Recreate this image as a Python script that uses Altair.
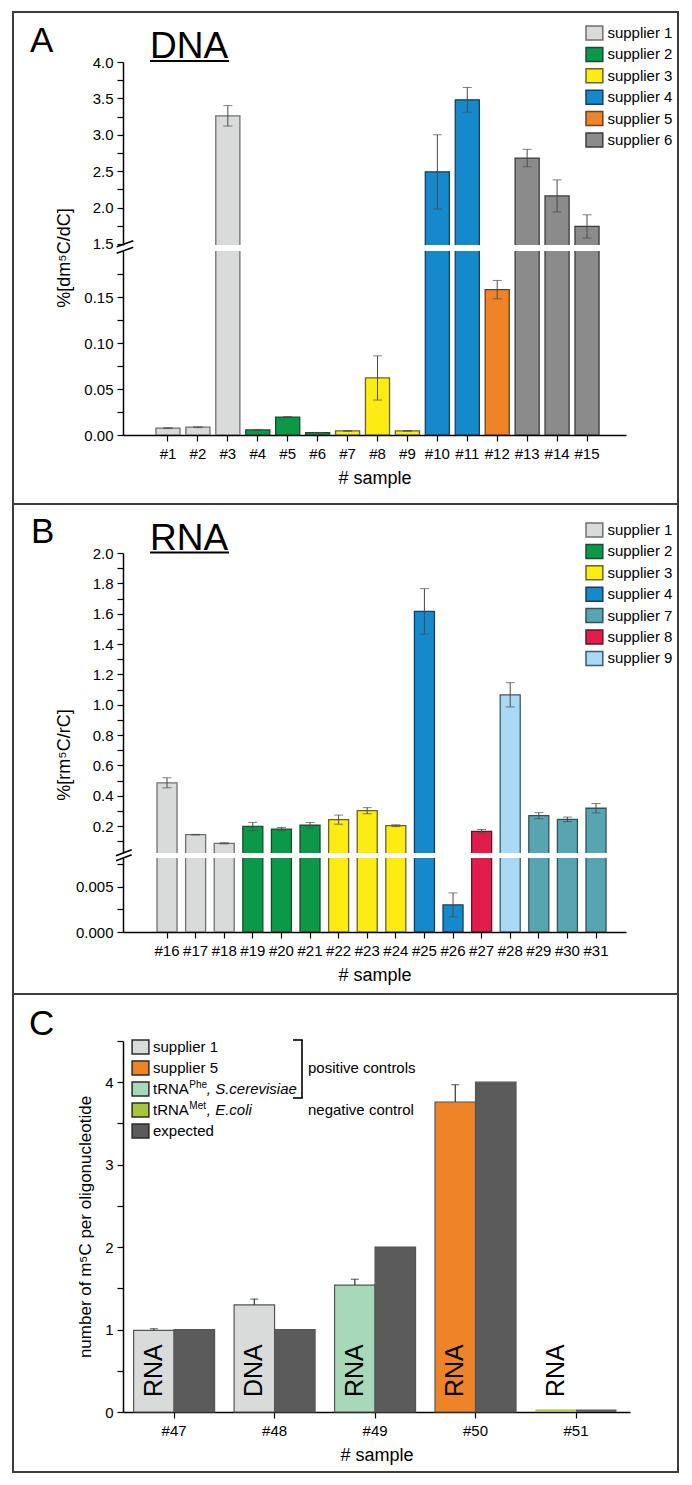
import altair as alt
import pandas as pd

FONT = "Liberation Sans"

# ---------------- Panel A : DNA ----------------
a_samples = ["#1", "#2", "#3", "#4", "#5", "#6", "#7", "#8", "#9", "#10",
             "#11", "#12", "#13", "#14", "#15"]
a_suppliers = ["supplier 1", "supplier 1", "supplier 1",
               "supplier 2", "supplier 2", "supplier 2",
               "supplier 3", "supplier 3", "supplier 3",
               "supplier 4", "supplier 4", "supplier 5",
               "supplier 6", "supplier 6", "supplier 6"]
a_values = [0.0075, 0.0085, 3.26, 0.0055, 0.0195, 0.0025, 0.0045, 0.062,
            0.0045, 2.49, 3.48, 0.158, 2.68, 2.16, 1.74]
a_errors = [0.0005, 0.0005, 0.14, 0.0005, 0.0006, 0.0003, 0.0004, 0.024,
            0.0004, 0.51, 0.17, 0.010, 0.12, 0.22, 0.16]
a_legend = ["supplier 1", "supplier 2", "supplier 3", "supplier 4",
            "supplier 5", "supplier 6"]
a_fill = ["#D9DADA", "#0B9849", "#FCEC12", "#1689CC", "#EE8427", "#8B8B8B"]
a_line = ["#707070", "#1E4A30", "#6B6420", "#173E5E", "#6A4020", "#3C3C3C"]
a_up_ticks = [1.5, 1.75, 2.0, 2.25, 2.5, 2.75, 3.0, 3.25, 3.5, 3.75, 4.0]
a_low_ticks = [0.0, 0.025, 0.05, 0.075, 0.1, 0.125, 0.15, 0.175]

# ---------------- Panel B : RNA ----------------
b_samples = ["#16", "#17", "#18", "#19", "#20", "#21", "#22", "#23", "#24",
             "#25", "#26", "#27", "#28", "#29", "#30", "#31"]
b_suppliers = ["supplier 1", "supplier 1", "supplier 1",
               "supplier 2", "supplier 2", "supplier 2",
               "supplier 3", "supplier 3", "supplier 3",
               "supplier 4", "supplier 4", "supplier 8", "supplier 9",
               "supplier 7", "supplier 7", "supplier 7"]
b_values = [0.485, 0.143, 0.086, 0.197, 0.180, 0.205, 0.242, 0.301, 0.202,
            1.615, 0.0030, 0.165, 1.065, 0.268, 0.244, 0.317]
b_errors = [0.033, 0.002, 0.004, 0.027, 0.010, 0.018, 0.030, 0.020, 0.006,
            0.150, 0.00133, 0.012, 0.080, 0.020, 0.015, 0.031]
b_legend = ["supplier 1", "supplier 2", "supplier 3", "supplier 4",
            "supplier 7", "supplier 8", "supplier 9"]
b_fill = ["#D9DADA", "#0B9849", "#FCEC12", "#1689CC", "#56A5B0", "#E31D4B", "#A9D9F5"]
b_line = ["#707070", "#1E4A30", "#6B6420", "#173E5E", "#2F5459", "#5A1A26", "#3E5A6A"]
b_up_ticks = [0.1, 0.2, 0.3, 0.4, 0.5, 0.6, 0.7, 0.8, 0.9, 1.0, 1.1, 1.2,
              1.3, 1.4, 1.5, 1.6, 1.7, 1.8, 1.9, 2.0]
b_low_ticks = [0.0, 0.0025, 0.005, 0.0075]

# ---------------- Panel C : oligonucleotides ----------------
c_samples = ["#47", "#48", "#49", "#50", "#51"]
c_material = ["RNA", "DNA", "RNA", "RNA", "RNA"]
c_source = ["supplier 1", "supplier 1", "tRNA Phe", "supplier 5", "tRNA Met"]
c_measured = [0.99, 1.30, 1.54, 3.76, 0.03]
c_errors = [0.02, 0.07, 0.07, 0.21, 0.0]
c_expected = [1.0, 1.0, 2.0, 4.0, 0.03]
c_keys = ["supplier 1", "supplier 5", "tRNA Phe", "tRNA Met", "expected"]
c_fill = ["#D9DADA", "#EE8427", "#A7D8B8", "#A8C43A", "#5B5B5B"]
c_legend_main = ["supplier 1", "supplier 5", "tRNA", "tRNA", "expected"]
c_legend_sup = ["", "", "Phe", "Met", ""]
c_legend_species = ["", "", ", S.cerevisiae", ", E.coli", ""]
c_note_text = ["positive controls", "negative control"]
c_note_rows = [1, 3]
c_ticks = [0, 0.5, 1, 1.5, 2, 2.5, 3, 3.5, 4, 4.5]

SYMBOL = "M-1.2,-1H1.2V1H-1.2Z"
one = pd.DataFrame({"k": [0]})


def label(text, x, y, size, **kw):
    opts = dict(align="left", baseline="alphabetic", color="#000")
    opts.update(kw)
    return alt.Chart(one).mark_text(text=text, fontSize=size, **opts).encode(
        x=alt.value(x), y=alt.value(y))


def line(x, y, x2, y2, width=1.6, color="#000"):
    return alt.Chart(one).mark_rule(color=color, strokeWidth=width).encode(
        x=alt.value(x), y=alt.value(y), x2=alt.value(x2), y2=alt.value(y2))


def frame(x, y, x2, y2):
    return alt.Chart(one).mark_rect(fillOpacity=0, stroke="#3d3d3d", strokeWidth=2).encode(
        x=alt.value(x), y=alt.value(y), x2=alt.value(x2), y2=alt.value(y2))


def spacer(h):
    return alt.Chart(one).mark_point(opacity=0).encode(
        x=alt.value(0), y=alt.value(0)).properties(width=503, height=h)


def make_df(samples, suppliers, values, errors):
    df = pd.DataFrame({"sample": samples, "supplier": suppliers,
                       "value": values, "err": errors})
    df["lo"] = df["value"] - df["err"]
    df["hi"] = df["value"] + df["err"]
    return df


def supplier_legend(lx, ly):
    return alt.Legend(orient="none", legendX=lx, legendY=ly, direction="vertical",
                      title=None, padding=0, symbolType=SYMBOL, symbolSize=196,
                      symbolStrokeColor="#2b2b2b", symbolStrokeWidth=1.5,
                      symbolOpacity=1, labelFontSize=15, labelColor="#000",
                      labelOffset=5, rowPadding=1.4)


def section(df, xscale, x_axis, ydomain, ticks, expr, fill_scale, stroke_scale, legend):
    x = alt.X("sample:N", scale=xscale, axis=x_axis, sort=None)
    ysc = alt.Scale(domain=ydomain, nice=False, zero=False)
    yax = alt.Axis(values=ticks, labelExpr=expr, title=None, labelOverlap=False)
    bars = alt.Chart(df).mark_bar(clip=True, strokeWidth=1.3).encode(
        x=x, y=alt.Y("value:Q", scale=ysc, axis=yax), y2=alt.datum(0),
        fill=alt.Fill("supplier:N", scale=fill_scale, legend=legend),
        stroke=alt.Stroke("supplier:N", scale=stroke_scale, legend=None))
    rule = alt.Chart(df).mark_rule(clip=True, color="#4a4a4a", strokeWidth=1).encode(
        x=x, y=alt.Y("lo:Q", scale=ysc, axis=yax), y2="hi:Q")
    t_lo = alt.Chart(df).mark_tick(clip=True, color="#4a4a4a", thickness=1, size=9).encode(
        x=x, y=alt.Y("lo:Q", scale=ysc, axis=yax))
    t_hi = alt.Chart(df).mark_tick(clip=True, color="#4a4a4a", thickness=1, size=9).encode(
        x=x, y=alt.Y("hi:Q", scale=ysc, axis=yax))
    return [bars, rule, t_lo, t_hi]


x_axis_lower = alt.Axis(title="# sample", labelAngle=0, labelOverlap=False)

# ---- Panel A ----
a_df = make_df(a_samples, a_suppliers, a_values, a_errors)
a_x = alt.Scale(domain=a_samples, paddingInner=0.195, paddingOuter=1.0, align=0.55)
a_fill_sc = alt.Scale(domain=a_legend, range=a_fill)
a_line_sc = alt.Scale(domain=a_legend, range=a_line)

a_up = alt.layer(
    *section(a_df, a_x, None, [1.485, 4.0], a_up_ticks,
             "abs(datum.value*2 - round(datum.value*2)) < 0.001 ? format(datum.value, '.1f') : ''",
             a_fill_sc, a_line_sc, supplier_legend(463.4, -37)),
    label("A", -93, -10, 35),
    label("DNA", 27, -4, 37),
    line(27, -1, 106, -1, width=2),
).properties(width=503, height=183)

a_low = alt.layer(
    *section(a_df, a_x, x_axis_lower, [0, 0.2], a_low_ticks,
             "abs(datum.value*20 - round(datum.value*20)) < 0.001 ? format(datum.value, '.2f') : ''",
             a_fill_sc, a_line_sc, None),
    line(-6.3, -4.3, 10.3, -10.3),
    line(-6.3, 2.3, 10.3, -3.7),
    label("%[dm\u2075C/dC]", -58, 7, 18, angle=270, align="center", baseline="middle"),
    frame(-110, -239, 555, 253),
).properties(width=503, height=184)

# ---- Panel B ----
b_df = make_df(b_samples, b_suppliers, b_values, b_errors)
b_x = alt.Scale(domain=b_samples, paddingInner=0.3, paddingOuter=0.944, align=0.63)
b_fill_sc = alt.Scale(domain=b_legend, range=b_fill)
b_line_sc = alt.Scale(domain=b_legend, range=b_line)

b_up = alt.layer(
    *section(b_df, b_x, None, [0.022, 2.0], b_up_ticks,
             "abs(datum.value*5 - round(datum.value*5)) < 0.001 ? format(datum.value, '.1f') : ''",
             b_fill_sc, b_line_sc, supplier_legend(463.4, -31)),
    label("B", -92, -10, 35),
    label("RNA", 27, -3, 37),
    line(27, -0.5, 106, -0.5, width=2),
    label("%[rm\u2075C/rC]", -58, 202, 18, angle=270, align="center", baseline="middle"),
).properties(width=503, height=300)

b_low = alt.layer(
    *section(b_df, b_x, x_axis_lower, [0, 0.0082], b_low_ticks,
             "abs(datum.value*200 - round(datum.value*200)) < 0.001 ? format(datum.value, '.3f') : ''",
             b_fill_sc, b_line_sc, None),
    line(-7, -2.3, 8.7, -8.3),
    line(-7, 2.7, 8.7, -3.3),
    frame(-110, -354, 555, 136),
).properties(width=503, height=74)

# ---- Panel C ----
rows = []
for s, m, src, v, e, ex in zip(c_samples, c_material, c_source, c_measured, c_errors, c_expected):
    rows.append({"sample": s, "kind": "measured", "source": src, "value": v,
                 "hi": v + e, "err": e, "material": m})
    rows.append({"sample": s, "kind": "expected", "source": "expected", "value": ex,
                 "hi": ex, "err": 0.0, "material": ""})
c_df = pd.DataFrame(rows)

c_xs = alt.X("sample:N", sort=None,
             scale=alt.Scale(domain=c_samples, paddingInner=0.194, paddingOuter=0.12, align=0.44),
             axis=x_axis_lower)
c_xo = alt.XOffset("kind:N", scale=alt.Scale(domain=["measured", "expected"],
                                             paddingInner=0, paddingOuter=0))
c_ysc = alt.Scale(domain=[0, 4.5], nice=False)
c_yax = alt.Axis(values=c_ticks, title="number of m\u2075C per oligonucleotide",
                 titleFontSize=17, titlePadding=10, labelOverlap=False,
                 labelExpr="datum.value == round(datum.value) ? format(datum.value, 'd') : ''")

c_bars = alt.Chart(c_df).mark_bar(stroke="#555555").encode(
    x=c_xs, xOffset=c_xo,
    y=alt.Y("value:Q", scale=c_ysc, axis=c_yax), y2=alt.datum(0),
    fill=alt.Fill("source:N", scale=alt.Scale(domain=c_keys, range=c_fill), legend=None),
    strokeWidth=alt.condition("datum.value < 0.1", alt.value(0), alt.value(1.2)))
c_err = c_df[c_df["err"] > 0]
c_rule = alt.Chart(c_err).mark_rule(color="#333333", strokeWidth=1.2).encode(
    x=c_xs, xOffset=c_xo, y=alt.Y("value:Q", scale=c_ysc, axis=c_yax), y2="hi:Q")
c_cap = alt.Chart(c_err).mark_tick(color="#333333", thickness=1.2, size=8).encode(
    x=c_xs, xOffset=c_xo, y=alt.Y("hi:Q", scale=c_ysc, axis=c_yax))
c_text = alt.Chart(c_df[c_df["kind"] == "measured"]).mark_text(
    angle=270, align="left", baseline="middle", fontSize=25, color="#000").encode(
    x=c_xs, xOffset=c_xo, y=alt.value(356), text="material:N")
c_main = alt.layer(c_bars, c_rule, c_cap, c_text)

leg_df = pd.DataFrame({"row": list(range(len(c_keys))), "key": c_keys,
                       "main": c_legend_main, "sup": c_legend_sup,
                       "species": c_legend_species})
note_df = pd.DataFrame({"row": c_note_rows, "note": c_note_text})
row_y = alt.Y("row:O", scale=alt.Scale(type="point", domain=[0, 1, 2, 3, 4],
                                       range=[6, 90], padding=0), axis=None)
leg_sw = alt.Chart(leg_df).mark_point(shape=SYMBOL, size=196, filled=True, opacity=1,
                                      stroke="#2b2b2b", strokeWidth=1.5).encode(
    x=alt.value(17.5), y=row_y,
    fill=alt.Fill("key:N", scale=alt.Scale(domain=c_keys, range=c_fill), legend=None))
leg_main = alt.Chart(leg_df).mark_text(align="left", baseline="middle", fontSize=15,
                                       color="#000").encode(
    x=alt.value(30), y=row_y, text="main:N")
leg_sup = alt.Chart(leg_df).mark_text(align="left", baseline="middle", fontSize=10,
                                      dy=-4, color="#000").encode(
    x=alt.value(66.3), y=row_y, text="sup:N")
leg_sp = alt.Chart(leg_df).mark_text(align="left", baseline="middle", fontSize=15,
                                     fontStyle="italic", color="#000").encode(
    x=alt.value(83.8), y=row_y, text="species:N")
leg_note = alt.Chart(note_df).mark_text(align="left", baseline="middle", fontSize=15,
                                        color="#000").encode(
    x=alt.value(185), y=row_y, text="note:N")
c_leg = alt.layer(leg_sw, leg_main, leg_sup, leg_sp, leg_note)

c_chart = alt.layer(
    c_main, c_leg,
    line(179, -1, 179, 57),
    line(170, -1, 179.8, -1),
    line(170, 57, 179.8, 57),
    label("C", -94, -6, 35),
    frame(-110, -47, 555, 431),
).resolve_scale(y="independent").properties(width=507, height=371)

chart = alt.vconcat(
    a_up, spacer(6), a_low, spacer(118), b_up, spacer(5), b_low, spacer(109), c_chart,
    spacing=0, bounds="flush",
).resolve_scale(
    x="independent", y="independent", fill="independent", stroke="independent"
).properties(
    padding={"left": 4, "top": 3, "right": 5, "bottom": 2}
).configure(
    font=FONT
).configure_view(
    stroke=None
).configure_axis(
    domainColor="#000", domainWidth=1.5, tickColor="#000", tickWidth=1.2, tickSize=6,
    labelColor="#000", labelFontSize=15, labelFont=FONT, titleFont=FONT,
    titleFontSize=18, titleFontWeight="normal", titleColor="#000", grid=False,
    labelPadding=4
).configure_axisX(
    labelPadding=5, titlePadding=8
)

chart.save("out.html", embed_options={"renderer": "svg", "actions": False})
